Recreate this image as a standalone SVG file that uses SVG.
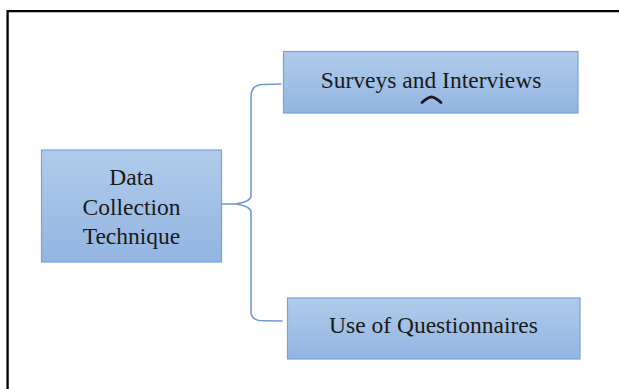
<svg xmlns="http://www.w3.org/2000/svg" width="619" height="389" viewBox="0 0 619 389">
  <defs>
    <linearGradient id="boxFill" x1="0" y1="0" x2="0" y2="1">
      <stop offset="0" stop-color="#b0cbea"/>
      <stop offset="1" stop-color="#93b5e2"/>
    </linearGradient>
    <style>
      .box { fill: url(#boxFill); stroke: #76a3da; stroke-width: 1.2; }
      .label { font-family: "Liberation Serif", "Times New Roman", serif; font-size: 23.5px; fill: #1a1a1a; text-anchor: middle; }
      .conn { fill: none; stroke: #7199d8; stroke-width: 1.6; stroke-linecap: round; stroke-linejoin: round; }
      .frame { fill: none; stroke: #000000; stroke-width: 2.3; }
    </style>
  </defs>
  <rect x="0" y="0" width="619" height="389" fill="#ffffff"/>
  <path class="frame" d="M7.6,389 V11.2 H619"/>

  <g id="connectors">
    <path class="conn" d="M281,84 L263,84.5 Q251,85 251,96 L251,196 Q251,201.5 236,204 L222,204"/>
    <path class="conn" d="M236,204 Q251,206.5 251,212 L251,312 Q251,320.5 263,320.8 L282,321"/>
  </g>

  <g id="node-data-collection">
    <rect class="box" x="41.5" y="150" width="180" height="112"/>
    <text class="label" x="131.5" y="185">Data</text>
    <text class="label" x="131.5" y="214.5">Collection</text>
    <text class="label" x="131.5" y="243.5">Technique</text>
  </g>

  <g id="node-surveys">
    <rect class="box" x="283.5" y="51.5" width="294.5" height="61.5"/>
    <text class="label" x="431" y="88">Surveys and Interviews</text>
    <path d="M422,102.5 Q427,97.5 431.5,96.8 Q436,97.5 441,102.5" fill="none" stroke="#1a1a1a" stroke-width="2.8" stroke-linecap="round" stroke-linejoin="round"/>
  </g>

  <g id="node-questionnaires">
    <rect class="box" x="287.5" y="298" width="292.5" height="61"/>
    <text class="label" x="433.5" y="333">Use of Questionnaires</text>
  </g>
</svg>
